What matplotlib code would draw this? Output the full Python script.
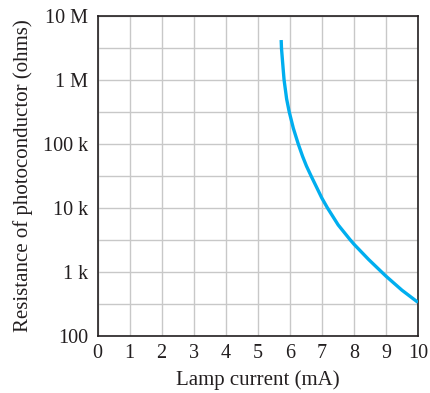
import matplotlib
matplotlib.use("Agg")
import matplotlib.pyplot as plt

lamp_current_mA = [5.73, 5.74, 5.79, 5.82, 5.90, 5.98, 6.11, 6.26, 6.40, 6.52,
                   6.66, 7.0, 7.17, 7.51, 7.88, 8.0, 8.46, 9.0, 9.5, 10.0]
log10_resistance = [6.62, 6.49, 6.18, 6.0, 5.70, 5.5, 5.24, 5.0, 4.80, 4.65,
                    4.5, 4.15, 4.0, 3.73, 3.5, 3.43, 3.19, 2.93, 2.71, 2.52]
resistance_ohms = [10 ** v for v in log10_resistance]

x_ticks = list(range(0, 11))
y_ticks = [1e2, 1e3, 1e4, 1e5, 1e6, 1e7]
y_tick_labels = ["100", "1 k", "10 k", "100 k", "1 M", "10 M"]
y_minor = [10 ** (k + 0.5) for k in range(2, 7)]

plt.rcParams['font.family'] = ['Liberation Serif', 'DejaVu Serif']

fig = plt.figure(figsize=(4.30, 3.93), dpi=100)
ax = fig.add_axes([0.227, 0.146, 0.745, 0.814])

ax.plot(lamp_current_mA, resistance_ohms, color='#00aeef', lw=2.4,
        solid_joinstyle='round', solid_capstyle='butt', zorder=3)

ax.set_yscale('log')
ax.set_xlim(0, 10)
ax.set_ylim(1e2, 1e7)
ax.set_xticks(x_ticks)
ax.set_xticklabels([str(t) for t in x_ticks])
ax.set_yticks(y_ticks)
ax.set_yticklabels(y_tick_labels)
ax.set_yticks(y_minor, minor=True)
ax.yaxis.set_minor_formatter(matplotlib.ticker.NullFormatter())

ax.grid(True, which='both', color='#c8c8c8', lw=1.0, zorder=1)
ax.set_axisbelow(True)
ax.tick_params(axis='both', which='both', length=0, labelsize=14.5, colors='#231f20')
ax.tick_params(axis='y', pad=7)
ax.tick_params(axis='x', pad=6)

for s in ax.spines.values():
    s.set_color('#231f20')
    s.set_linewidth(1.2)

ax.set_xlabel('Lamp current (mA)', fontsize=15, color='#231f20', labelpad=5)
ax.set_ylabel('Resistance of photoconductor (ohms)', fontsize=15, color='#231f20', labelpad=7)

fig.savefig('out.png', dpi=100)
